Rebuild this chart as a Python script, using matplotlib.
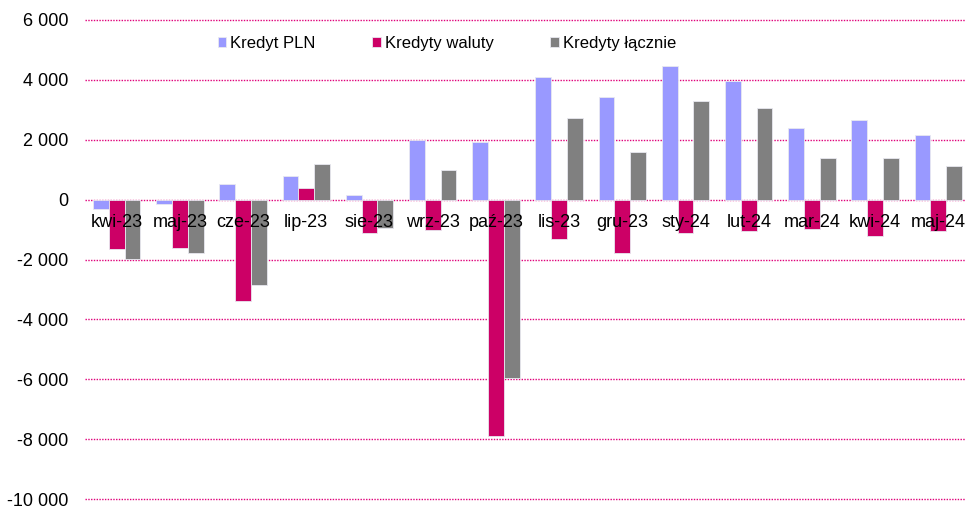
import numpy as np
import matplotlib
matplotlib.use("Agg")
import matplotlib.pyplot as plt
from matplotlib.ticker import FuncFormatter

## DATA ##
months = ["kwi-23", "maj-23", "cze-23", "lip-23", "sie-23", "wrz-23", "paź-23",
          "lis-23", "gru-23", "sty-24", "lut-24", "mar-24", "kwi-24", "maj-24"]
kredyt_pln = [-300, -130, 530, 800, 170, 2000, 1930, 4100, 3430, 4470, 3970, 2390, 2650, 2160]
kredyty_waluty = [-1650, -1600, -3380, 390, -1110, -1010, -7900, -1330, -1790, -1100, -1050, -980, -1200, -1050]
kredyty_lacznie = [-1990, -1770, -2850, 1200, -950, 990, -5970, 2730, 1580, 3290, 3070, 1400, 1400, 1130]

labels = ["Kredyt PLN", "Kredyty waluty", "Kredyty łącznie"]
colors = ["#9999FF", "#CC0066", "#808080"]

plt.rcParams['font.family'] = ['Liberation Sans', 'DejaVu Sans']

fig = plt.figure(figsize=(9.65, 5.09), dpi=100)
ax = fig.add_axes([85 / 965, 10 / 509, 885 / 965, 479 / 509])

x = np.arange(len(months))
w = 0.25
for i, (vals, lab, col) in enumerate(zip([kredyt_pln, kredyty_waluty, kredyty_lacznie], labels, colors)):
    ax.bar(x + (i - 1) * w, vals, width=w, color=col, label=lab,
           edgecolor="#e8e8f0", linewidth=0.6, zorder=2)

ax.set_xlim(-0.5, len(months) - 0.5)
ax.set_ylim(-10000, 6000)
yticks = np.arange(-10000, 6001, 2000)
ax.set_yticks(yticks)
ax.yaxis.set_major_formatter(FuncFormatter(lambda v, p: f"{int(v):,}".replace(",", " ")))
# dotted gridlines drawn under the bars, tick labels stay on top
for yv in yticks:
    ax.axhline(yv, color="#E0007A", linestyle=(0, (1, 1)), linewidth=1.0,
               zorder=0, clip_on=False)
ax.set_axisbelow(False)

for s in ["top", "right", "left"]:
    ax.spines[s].set_visible(False)
ax.spines["bottom"].set_position(("data", 0))
ax.spines["bottom"].set_visible(False)

ax.set_xticks(x)
ax.set_xticklabels(months)
ax.tick_params(axis="x", length=0, pad=10, labelsize=13)
ax.tick_params(axis="y", length=0, pad=12, labelsize=13)

ax.legend(loc="center left", bbox_to_anchor=(0.133, 0.951), ncol=3, frameon=False,
          fontsize=12, handlelength=0.5, handleheight=0.5, handletextpad=0.25,
          columnspacing=3.4)

fig.savefig("out.png", dpi=100)
